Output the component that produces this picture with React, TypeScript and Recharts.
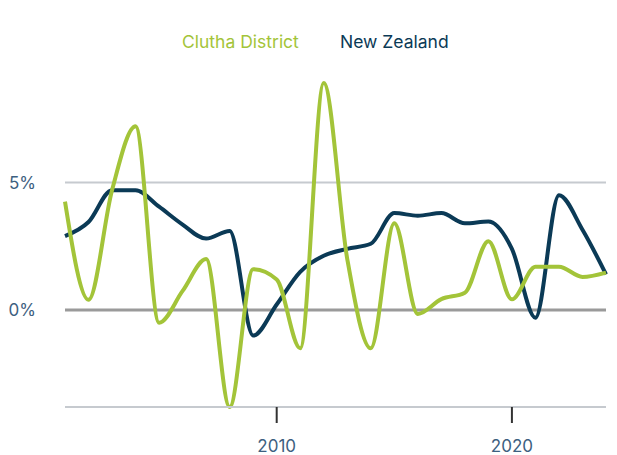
import React from 'react';
import { LineChart, Line, XAxis, YAxis, ReferenceLine } from 'recharts';

const years = [2001, 2002, 2003, 2004, 2005, 2006, 2007, 2008, 2009, 2010, 2011, 2012, 2013, 2014, 2015, 2016, 2017, 2018, 2019, 2020, 2021, 2022, 2023, 2024];
const clutha = [4.25, 0.4, 4.7, 7.2, -0.5, 0.75, 2.0, -3.8, 1.6, 1.2, -1.5, 8.9, 2.0, -1.5, 3.4, -0.15, 0.43, 0.68, 2.7, 0.42, 1.7, 1.7, 1.3, 1.47];
const newZealand = [2.9, 3.45, 4.7, 4.7, 4.05, 3.35, 2.8, 3.1, -1.0, 0.22, 1.5, 2.13, 2.4, 2.6, 3.8, 3.7, 3.8, 3.4, 3.47, 2.4, -0.3, 4.5, 3.15, 1.4];
const xTicks = [2010, 2020];
const yTicks = [0, 5];
const seriesNames = ['Clutha District', 'New Zealand'];

const data = years.map((y, i) => ({ year: y, clutha: clutha[i], nz: newZealand[i] }));

const GREEN = '#a3c439';
const NAVY = '#0b3a56';
const LABEL = '#3d6080';
const FONT = 'Inter, Roboto, sans-serif';

export default function App() {
  return (
    <div style={{ position: 'absolute', left: 0, top: 0, width: 617, height: 455 }}>
      <div style={{ position: 'absolute', top: 31, left: 182, fontFamily: FONT, fontSize: 17.5, color: GREEN, whiteSpace: 'nowrap', lineHeight: '22px' }}>{seriesNames[0]}</div>
      <div style={{ position: 'absolute', top: 31, left: 340, fontFamily: FONT, fontSize: 17.5, color: NAVY, whiteSpace: 'nowrap', lineHeight: '22px' }}>{seriesNames[1]}</div>
      <LineChart width={617} height={455} data={data} margin={{ top: 83, right: 11, bottom: 0, left: 0 }}>
        <XAxis
          dataKey="year"
          type="number"
          domain={[2001, 2024]}
          ticks={xTicks}
          height={48}
          axisLine={{ stroke: '#c6cacf', strokeWidth: 2 }}
          tickLine={{ stroke: '#333', strokeWidth: 2 }}
          tickSize={16}
          tickMargin={17}
          tick={{ fill: LABEL, fontSize: 17, fontFamily: FONT }}
        />
        <YAxis
          type="number"
          domain={['dataMin', 'dataMax']}
          ticks={yTicks}
          width={65}
          axisLine={false}
          tickLine={false}
          tickSize={0}
          tickMargin={29}
          tickFormatter={(v: number) => `${v}%`}
          tick={{ fill: LABEL, fontSize: 17, fontFamily: FONT }}
        />
        <ReferenceLine y={5} stroke="#c6cacf" strokeWidth={2} />
        <ReferenceLine y={0} stroke="#9a9a9a" strokeWidth={3} />
        <Line type="monotone" dataKey="nz" stroke={NAVY} strokeWidth={4} dot={false} isAnimationActive={false} />
        <Line type="monotone" dataKey="clutha" stroke={GREEN} strokeWidth={4} dot={false} isAnimationActive={false} />
      </LineChart>
    </div>
  );
}
